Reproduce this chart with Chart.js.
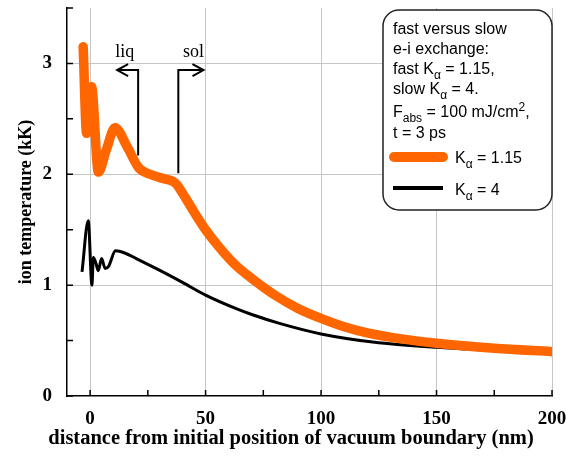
<!DOCTYPE html>
<html>
<head>
<meta charset="utf-8">
<script src="https://cdn.jsdelivr.net/npm/chart.js@4.4.1/dist/chart.umd.min.js"></script>
<style>
  html, body { margin: 0; padding: 0; background: #fff; }
</style>
</head>
<body>
<canvas id="myChart" width="566" height="457"></canvas>
<script>
// distance from initial vacuum boundary (nm) and ion temperature (kK)
const fastX = [-3, -1.5, 0.6, 3.6, 7, 10.8, 16, 21, 26, 32, 37, 40, 45, 50, 56, 63, 70, 80, 90, 100, 110, 120, 135, 150, 175, 200];
const fastY = [3.15, 2.37, 2.79, 2.02, 2.22, 2.42, 2.25, 2.06, 2.0, 1.96, 1.92, 1.83, 1.66, 1.50, 1.34, 1.18, 1.06, 0.91, 0.79, 0.70, 0.625, 0.57, 0.515, 0.475, 0.43, 0.40];
const slowX = [-3.5, -0.8, 0.8, 1.4, 2.5, 3.5, 5, 6.5, 8, 11, 15, 20, 30, 40, 50, 63, 70, 82, 100, 125, 150, 175, 200];
const slowY = [1.12, 1.58, 1.0, 1.25, 1.2, 1.13, 1.24, 1.15, 1.17, 1.31, 1.29, 1.24, 1.135, 1.025, 0.91, 0.79, 0.735, 0.655, 0.56, 0.48, 0.44, 0.41, 0.39];
const seriesLabels = ["K_{α} = 1.15", "K_{α} = 4"];
const xTicks = [0, 25, 50, 75, 100, 125, 150, 175, 200];
const yTicks = [0, 0.5, 1, 1.5, 2, 2.5, 3, 3.5];
const noteLines = ["fast versus slow", "e-i exchange:", "fast K_{α} = 1.15,", "slow K_{α} = 4.", "F_{abs} = 100 mJ/cm^{2},", "t = 3 ps"];

const SERIF = "'Liberation Serif', 'Times New Roman', serif";
const SANS = "'Liberation Sans', Arial, sans-serif";
const ORANGE = "#ff6600";
const GRID = "#c6c6c6";

// text with _{sub} and ^{sup} pieces
function drawRich(ctx, str, x, y, size) {
  const re = /([_^])\{([^}]*)\}|([^_^]+)/g;
  let m;
  while ((m = re.exec(str))) {
    let txt = m[3], fs = size, dy = 0;
    if (m[1]) {
      txt = m[2];
      fs = Math.round(size * 0.72);
      dy = m[1] === "_" ? size * 0.3 : -size * 0.38;
    }
    ctx.font = fs + "px " + SANS;
    ctx.fillText(txt, x, y + dy);
    x += ctx.measureText(txt).width;
  }
}

function arrowHead(ctx, x, y, dir) {
  ctx.moveTo(x - dir * 11, y - 6);
  ctx.lineTo(x, y);
  ctx.lineTo(x - dir * 11, y + 6);
}

const decorations = {
  id: "decorations",
  beforeDatasetsDraw(chart) {
    const ctx = chart.ctx, xs = chart.scales.x, ys = chart.scales.y, a = chart.chartArea;
    ctx.save();
    ctx.strokeStyle = "#000";
    ctx.lineWidth = 1.5;
    ctx.beginPath();
    yTicks.forEach(v => {
      const py = ys.getPixelForValue(v);
      ctx.moveTo(a.left, py);
      ctx.lineTo(a.left + 6, py);
    });
    xTicks.forEach(v => {
      const px = xs.getPixelForValue(v);
      ctx.moveTo(px, a.bottom);
      ctx.lineTo(px, a.bottom - 6);
    });
    ctx.stroke();
    ctx.restore();
  },
  afterDraw(chart) {
    const ctx = chart.ctx, xs = chart.scales.x, ys = chart.scales.y;
    const X = v => xs.getPixelForValue(v), Y = v => ys.getPixelForValue(v);
    ctx.save();

    // liq / sol markers
    ctx.strokeStyle = "#000";
    ctx.lineWidth = 2;
    ctx.beginPath();
    ctx.moveTo(X(20.8), Y(2.17));
    ctx.lineTo(X(20.8), Y(2.94));
    ctx.lineTo(X(11.7), Y(2.94));
    arrowHead(ctx, X(11.7), Y(2.94), -1);
    ctx.moveTo(X(38.2), Y(2.01));
    ctx.lineTo(X(38.2), Y(2.94));
    ctx.lineTo(X(49.1), Y(2.94));
    arrowHead(ctx, X(49.1), Y(2.94), 1);
    ctx.stroke();
    ctx.fillStyle = "#000";
    ctx.font = "18px " + SERIF;
    ctx.textBaseline = "alphabetic";
    ctx.fillText("liq", X(10.9), Y(3.06));
    ctx.fillText("sol", X(40.2), Y(3.06));

    // x axis title
    ctx.font = "bold 20.5px " + SERIF;
    ctx.textAlign = "center";
    ctx.fillText("distance from initial position of vacuum boundary (nm)", 291, 444);
    ctx.textAlign = "left";

    // note box with legend
    ctx.beginPath();
    ctx.roundRect(383, 10, 169, 200, 16);
    ctx.fillStyle = "#fff";
    ctx.fill();
    ctx.lineWidth = 1.5;
    ctx.strokeStyle = "#222";
    ctx.stroke();
    ctx.fillStyle = "#000";
    const base = [34, 54, 74, 94, 117, 138];
    noteLines.forEach((s, i) => drawRich(ctx, s, 393, base[i], 16));

    ctx.lineCap = "round";
    ctx.strokeStyle = ORANGE;
    ctx.lineWidth = 10;
    ctx.beginPath();
    ctx.moveTo(394, 157);
    ctx.lineTo(443, 157);
    ctx.stroke();
    ctx.lineCap = "butt";
    ctx.strokeStyle = "#000";
    ctx.lineWidth = 4;
    ctx.beginPath();
    ctx.moveTo(393, 188);
    ctx.lineTo(443, 188);
    ctx.stroke();
    drawRich(ctx, chart.data.datasets[0].label, 455, 163, 16);
    drawRich(ctx, chart.data.datasets[1].label, 455, 195, 16);
    ctx.restore();
  }
};

const data = {
  datasets: [
    {
      label: seriesLabels[0],
      data: fastX.map((x, i) => ({ x: x, y: fastY[i] })),
      borderColor: ORANGE,
      borderWidth: 9.5,
      borderJoinStyle: "round",
      borderCapStyle: "round",
      cubicInterpolationMode: "monotone",
      pointRadius: 0,
      fill: false,
    },
    {
      label: seriesLabels[1],
      data: slowX.map((x, i) => ({ x: x, y: slowY[i] })),
      borderColor: "#000",
      borderWidth: 3,
      borderJoinStyle: "round",
      cubicInterpolationMode: "monotone",
      pointRadius: 0,
      fill: false,
    },
  ],
};

const options = {
  responsive: false,
  animation: false,
  layout: { padding: { top: 8, right: 14, left: 0, bottom: 0 } },
  plugins: {
    legend: { display: false },
    tooltip: { enabled: false },
  },
  scales: {
    x: {
      type: "linear",
      min: -10,
      max: 200,
      afterBuildTicks: s => { s.ticks = xTicks.map(v => ({ value: v })); },
      afterFit: s => { s.height = 61; s.paddingLeft = 0; s.paddingRight = 0; },
      grid: {
        drawTicks: false,
        color: c => (c.tick && c.tick.value % 50 === 0 ? GRID : "rgba(0,0,0,0)"),
      },
      border: { color: "#000", width: 1.5 },
      ticks: {
        autoSkip: false,
        maxRotation: 0,
        padding: 12,
        color: "#000",
        font: { family: SERIF, size: 19, weight: "bold" },
        callback: v => (v % 50 === 0 ? v : ""),
      },
    },
    y: {
      min: 0,
      max: 3.5,
      afterBuildTicks: s => { s.ticks = yTicks.map(v => ({ value: v })); },
      afterFit: s => { s.width = 67; s.paddingTop = 0; s.paddingBottom = 0; },
      grid: {
        drawTicks: false,
        color: c => (c.tick && Number.isInteger(c.tick.value) && c.tick.value > 0 ? GRID : "rgba(0,0,0,0)"),
      },
      border: { color: "#000", width: 1.5 },
      ticks: {
        autoSkip: false,
        padding: 15,
        color: "#000",
        font: { family: SERIF, size: 19, weight: "bold" },
        callback: v => (Number.isInteger(v) ? v : ""),
      },
      title: {
        display: true,
        text: "ion temperature (kK)",
        color: "#000",
        font: { family: SERIF, size: 18, weight: "bold" },
        padding: { top: 16, bottom: 0 },
      },
    },
  },
};

const chart = new Chart("myChart", {
  type: "line",
  data: data,
  options: options,
  plugins: [decorations],
});
</script>
</body>
</html>
